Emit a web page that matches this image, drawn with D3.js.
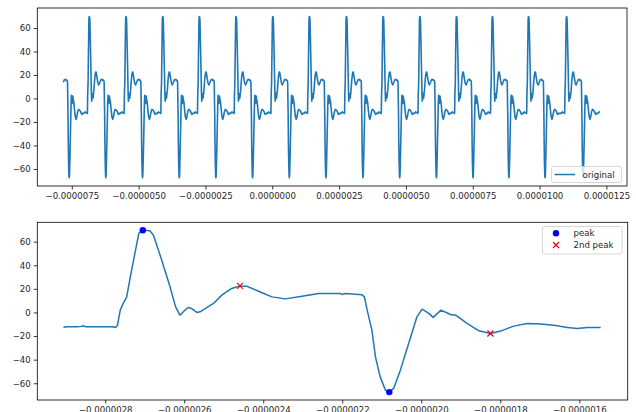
<!DOCTYPE html>
<html>
<head>
<meta charset="utf-8">
<script src="https://cdn.jsdelivr.net/npm/d3@7"></script>
<style>
  body { margin: 0; background: #fff; }
  text { font-family: "DejaVu Sans", sans-serif; fill: #262626; }
</style>
</head>
<body>
<div id="chart"></div>
<script>
// one cycle of the signal (time in microseconds)
let cycleTime = [-2.906, -2.899, -2.870, -2.860, -2.856, -2.849, -2.782, -2.774, -2.769, -2.762,
  -2.754, -2.746, -2.735, -2.725, -2.715, -2.705, -2.687, -2.678, -2.657, -2.636,
  -2.622, -2.611, -2.598, -2.590, -2.582, -2.568, -2.560, -2.526, -2.505, -2.480,
  -2.459, -2.442, -2.412, -2.378, -2.344, -2.302, -2.260, -2.205, -2.201, -2.192,
  -2.150, -2.144, -2.137, -2.125, -2.116, -2.104, -2.091, -2.081, -2.070, -2.053,
  -2.032, -2.011, -1.998, -1.981, -1.970, -1.950, -1.926, -1.913, -1.884, -1.854,
  -1.825, -1.799, -1.766, -1.732, -1.698, -1.664, -1.630, -1.605, -1.580, -1.546];
let cycleValue = [-12.7, -12.2, -12.2, -11.8, -11.3, -12.2, -12.2, -12.7, -10.8, 2.0,
  8.1, 12.7, 33, 50, 67, 69.7, 69.2, 65.5, 44.3, 21.7,
  4.7, -2.3, 2.0, 4.2, 3.4, 0, 0.5, 7.6, 14.7, 20.3,
  22.5, 22.3, 18, 13.2, 11.5, 13.8, 16.1, 16.1, 15.3, 16.0,
  14.9, 13.2, 2.0, -15, -37.6, -54.6, -65.8, -67.5, -64.4, -48.9,
  -26.3, -3.7, 2.8, -0.8, -4.2, 2.0, -1.7, -2.3, -9.3, -15.6,
  -17.8, -15.8, -11.6, -9.3, -9.7, -10.8, -12.7, -13.6, -12.7, -12.7];

// times of the main peak of each cycle in the full record (microseconds)
let cyclePeakTimes = [-8.22, -6.85, -5.476, -4.102, -2.732, -1.359, 0.015, 1.385,
  2.770, 4.144, 5.517, 6.887, 8.23, 9.582, 11.004, 12.38];
let recordStart = -7.82;
let recordEnd = 12.25;
let cyclePeakRef = -2.705;

let peakTime = [-2.705, -2.081];
let peakValue = [69.7, -67.5];
let secondPeakTime = [-2.459, -1.825];
let secondPeakValue = [22.5, -17.8];

let topXTicks = [-7.5, -5, -2.5, 0, 2.5, 5, 7.5, 10, 12.5];
let bottomXTicks = [-2.8, -2.6, -2.4, -2.2, -2.0, -1.8, -1.6];
let yTicks = [-60, -40, -20, 0, 20, 40, 60];

let lineColor = "#1f77b4";

// build full record by placing the read cycle at each peak time
let record = [];
cyclePeakTimes.forEach(function(p) {
  cycleTime.forEach(function(t, i) {
    let tt = p + (t - cyclePeakRef);
    if (tt >= recordStart && tt <= recordEnd) record.push({t: tt, v: cycleValue[i]});
  });
});
let cycle = cycleTime.map(function(t, i) { return {t: t, v: cycleValue[i]}; });

let svg = d3.select("#chart").append("svg")
  .attr("width", 636)
  .attr("height", 412);

let fmt = d3.format(".7f");

function drawAxes(g, xScale, yScale, xTicks) {
  let xAxis = d3.axisBottom(xScale).tickValues(xTicks)
    .tickSize(3.5).tickPadding(3)
    .tickFormat(function(d) { return fmt(d * 1e-6); });
  let yAxis = d3.axisLeft(yScale).tickValues(yTicks)
    .tickSize(3.5).tickPadding(3);

  let y0 = yScale.range()[0];
  let gx = g.append("g").attr("transform", "translate(0," + y0 + ")").call(xAxis);
  let gy = g.append("g").attr("transform", "translate(" + xScale.range()[0] + ",0)").call(yAxis);
  [gx, gy].forEach(function(a) {
    a.select(".domain").remove();
    a.selectAll("line").attr("stroke", "#000").attr("stroke-width", 0.8);
    a.selectAll("text").style("font-size", "8.6px").attr("fill", "#262626");
  });

  g.append("rect")
    .attr("x", xScale.range()[0])
    .attr("y", yScale.range()[1])
    .attr("width", xScale.range()[1] - xScale.range()[0])
    .attr("height", yScale.range()[0] - yScale.range()[1])
    .attr("fill", "none")
    .attr("stroke", "#000")
    .attr("stroke-width", 0.8);
}

function cross(sel, cx, cy, s) {
  sel.append("path")
    .attr("d", "M" + (cx - s) + "," + (cy - s) + "L" + (cx + s) + "," + (cy + s) +
      "M" + (cx - s) + "," + (cy + s) + "L" + (cx + s) + "," + (cy - s))
    .attr("stroke", "#ff0000")
    .attr("stroke-width", 1.2);
}

// ---- top panel
let xTop = d3.scaleLinear().domain([-8.79, 13.27]).range([37.3, 627]);
let yTop = d3.scaleLinear().domain([-74.5, 77]).range([186, 8]);

let topG = svg.append("g");
let line1 = d3.line().x(d => xTop(d.t)).y(d => yTop(d.v));
topG.append("path")
  .attr("d", line1(record))
  .attr("fill", "none")
  .attr("stroke", lineColor)
  .attr("stroke-width", 1.6)
  .attr("stroke-linejoin", "round");
drawAxes(topG, xTop, yTop, topXTicks);

let leg1 = topG.append("g");
leg1.append("rect")
  .attr("x", 551.5).attr("y", 166.5).attr("width", 70).attr("height", 16)
  .attr("rx", 2).attr("fill", "#fff").attr("fill-opacity", 0.8)
  .attr("stroke", "#ccc").attr("stroke-width", 0.8);
leg1.append("line")
  .attr("x1", 554.5).attr("x2", 575).attr("y1", 174.5).attr("y2", 174.5)
  .attr("stroke", lineColor).attr("stroke-width", 1.5);
leg1.append("text")
  .attr("x", 582.5).attr("y", 177.5)
  .style("font-size", "8.6px")
  .text("original");

// ---- bottom panel
let xBot = d3.scaleLinear().domain([-2.972, -1.4775]).range([37.3, 627.7]);
let yBot = d3.scaleLinear().domain([-74.2, 76.4]).range([400, 222.3]);

let botG = svg.append("g");
let line2 = d3.line().x(d => xBot(d.t)).y(d => yBot(d.v));
botG.append("path")
  .attr("d", line2(cycle))
  .attr("fill", "none")
  .attr("stroke", lineColor)
  .attr("stroke-width", 1.5)
  .attr("stroke-linejoin", "round");

botG.selectAll("circle.peak").data(peakTime).enter()
  .append("circle")
  .attr("class", "peak")
  .attr("cx", d => xBot(d))
  .attr("cy", (d, i) => yBot(peakValue[i]))
  .attr("r", 3.2)
  .attr("fill", "#0000ff");

secondPeakTime.forEach(function(t, i) {
  cross(botG, xBot(t), yBot(secondPeakValue[i]), 3);
});
drawAxes(botG, xBot, yBot, bottomXTicks);

let leg2 = botG.append("g");
leg2.append("rect")
  .attr("x", 542.5).attr("y", 226.5).attr("width", 79.5).attr("height", 27.5)
  .attr("rx", 2).attr("fill", "#fff").attr("fill-opacity", 0.8)
  .attr("stroke", "#ccc").attr("stroke-width", 0.8);
leg2.append("circle")
  .attr("cx", 556).attr("cy", 233.3).attr("r", 3.2).attr("fill", "#0000ff");
cross(leg2, 556, 245, 3);
leg2.append("text")
  .attr("x", 573.5).attr("y", 236.4)
  .style("font-size", "8.6px")
  .text("peak");
leg2.append("text")
  .attr("x", 573.5).attr("y", 248.1)
  .style("font-size", "8.6px")
  .text("2nd peak");
</script>
</body>
</html>
